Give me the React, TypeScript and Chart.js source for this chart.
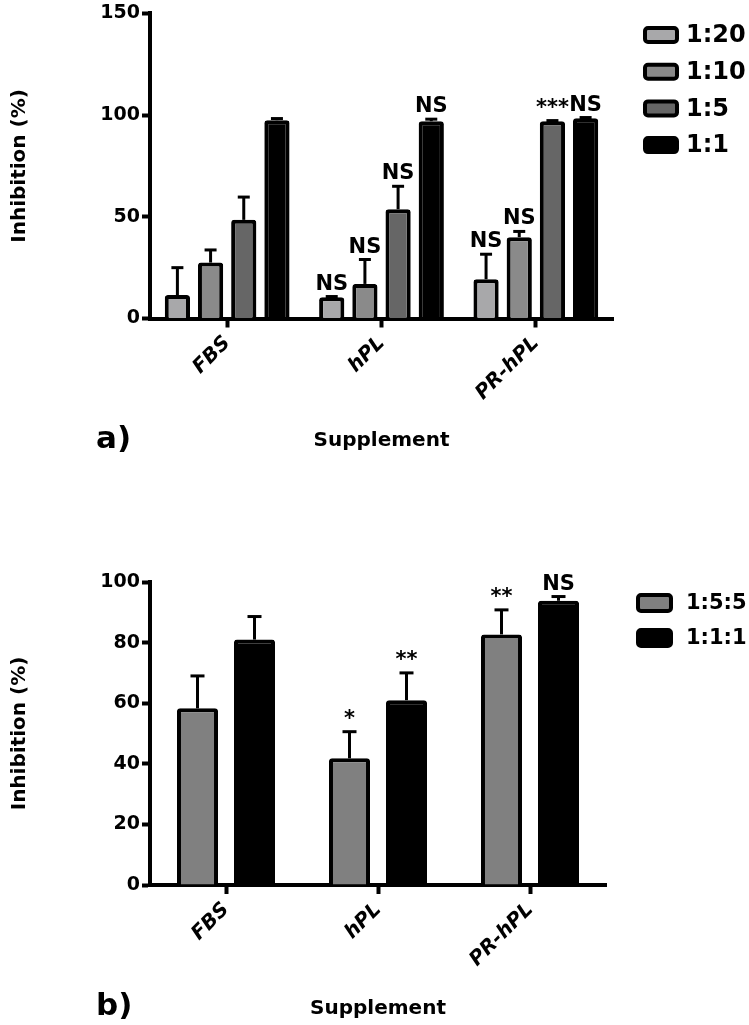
import React, { useEffect, useRef } from "react";
import { Chart, registerables } from "chart.js";

Chart.register(...registerables);

// ---------- DATA ----------
const supplements = ["FBS", "hPL", "PR-hPL"];

// Panel a)
const ratiosA = ["1:20", "1:10", "1:5", "1:1"];
const a_1_20 = [11.5, 10.5, 19.3];
const a_1_10 = [27.5, 17.0, 40.0];
const a_1_5 = [48.5, 53.7, 97.0];
const a_1_1 = [97.5, 97.0, 98.5];
const aErr_1_20 = [13.5, 0.3, 12.3];
const aErr_1_10 = [6.2, 12.0, 2.8];
const aErr_1_5 = [11.2, 11.3, 0.3];
const aErr_1_1 = [0.8, 1.0, 0.3];
const aSig_1_20 = ["", "NS", "NS"];
const aSig_1_10 = ["", "NS", "NS"];
const aSig_1_5 = ["", "NS", "***"];
const aSig_1_1 = ["", "NS", "NS"];
const aColors = ["#a8a8aa", "#8a8a8a", "#666666", "#000000"];
const aTickStep = 50;
const aMax = 150;

// Panel b)
const ratiosB = ["1:5:5", "1:1:1"];
const b_1_5_5 = [58.3, 41.8, 82.7];
const b_1_1_1 = [81.0, 61.0, 93.8];
const bErr_1_5_5 = [10.7, 8.8, 8.1];
const bErr_1_1_1 = [7.6, 9.0, 1.4];
const bSig_1_5_5 = ["", "*", "**"];
const bSig_1_1_1 = ["", "**", "NS"];
const bColors = ["#808080", "#000000"];
const bTickStep = 20;
const bMax = 100;

const xTitle = "Supplement";
const yTitle = "Inhibition (%)";

const FONT = "'DejaVu Sans', sans-serif";

type PanelOpts = {
  width: number;
  height: number;
  padTop: number;
  padRight: number;
  xAxisHeight: number;
  xTitlePadBottom: number;
  max: number;
  step: number;
  catPct: number;
  barPct: number;
  capHalf: number;
  panelLabel: string;
  panelLabelY: number;
  legendBoxX: number;
  legendBoxW: number;
  legendBoxH: number;
  legendTextX: number;
  legendY0: number;
  legendDY: number;
  legendFont: number;
};

const errorAndSigPlugin = {
  id: "errorAndSig",
  afterDatasetsDraw(chart: any) {
    const ctx = chart.ctx;
    const y = chart.scales.y;
    const capHalf = chart.options.plugins.errorAndSig.capHalf;
    chart.data.datasets.forEach((ds: any, di: number) => {
      const meta = chart.getDatasetMeta(di);
      meta.data.forEach((bar: any, i: number) => {
        const v = ds.data[i];
        const e = ds.errors[i];
        const yTop = y.getPixelForValue(v + e);
        const yV = y.getPixelForValue(v);
        ctx.save();
        ctx.strokeStyle = "#000";
        ctx.lineWidth = 3;
        ctx.lineCap = "butt";
        if (e > 0.5) {
          ctx.beginPath();
          ctx.moveTo(bar.x, yV);
          ctx.lineTo(bar.x, yTop);
          ctx.stroke();
        }
        ctx.beginPath();
        ctx.moveTo(bar.x - capHalf, yTop);
        ctx.lineTo(bar.x + capHalf, yTop);
        ctx.stroke();
        const s = ds.sig[i];
        if (s) {
          ctx.fillStyle = "#000";
          ctx.font = `bold 21px ${FONT}`;
          ctx.textAlign = "center";
          ctx.textBaseline = "alphabetic";
          ctx.fillText(s, bar.x, yTop - 7);
        }
        ctx.restore();
      });
    });
  },
};

const legendPlugin = {
  id: "customLegend",
  afterDraw(chart: any) {
    const o = chart.options.plugins.customLegend;
    const ctx = chart.ctx;
    ctx.save();
    chart.data.datasets.forEach((ds: any, i: number) => {
      const cy = o.legendY0 + i * o.legendDY;
      const x = o.legendBoxX;
      const w = o.legendBoxW;
      const h = o.legendBoxH;
      ctx.beginPath();
      ctx.roundRect(x + 2, cy - h / 2 + 2, w - 4, h - 4, 3);
      ctx.fillStyle = ds.backgroundColor;
      ctx.fill();
      ctx.lineWidth = 4;
      ctx.strokeStyle = "#000";
      ctx.stroke();
      ctx.fillStyle = "#000";
      ctx.font = `bold ${o.legendFont}px ${FONT}`;
      ctx.textAlign = "left";
      ctx.textBaseline = "middle";
      ctx.fillText(ds.label, o.legendTextX, cy + 1);
    });
    ctx.fillStyle = "#000";
    ctx.font = `bold 31px ${FONT}`;
    ctx.textAlign = "left";
    ctx.textBaseline = "middle";
    ctx.fillText(o.panelLabel, 96, o.panelLabelY);
    ctx.restore();
  },
};

function makeConfig(datasets: any[], o: PanelOpts): any {
  return {
    type: "bar",
    data: { labels: supplements, datasets },
    plugins: [errorAndSigPlugin, legendPlugin],
    options: {
      animation: false,
      responsive: false,
      devicePixelRatio: 1,
      layout: { padding: { left: 0, top: o.padTop, right: o.padRight, bottom: 0 } },
      datasets: { bar: { categoryPercentage: o.catPct, barPercentage: o.barPct } },
      plugins: {
        legend: { display: false },
        tooltip: { enabled: false },
        errorAndSig: { capHalf: o.capHalf },
        customLegend: o,
      },
      scales: {
        x: {
          type: "category",
          offset: true,
          z: 1,
          grid: {
            display: true,
            drawOnChartArea: false,
            drawTicks: true,
            tickLength: 9,
            tickWidth: 4,
            tickColor: "#000",
            offset: false,
          },
          border: { display: true, color: "#000", width: 4 },
          ticks: {
            color: "#000",
            font: { family: FONT, size: 20, weight: "bold", style: "italic" },
            minRotation: 45,
            maxRotation: 45,
            padding: 4,
          },
          title: {
            display: true,
            text: xTitle,
            color: "#000",
            font: { family: FONT, size: 20, weight: "bold" },
            padding: { top: 0, bottom: o.xTitlePadBottom },
          },
          afterFit: (s: any) => {
            s.height = o.xAxisHeight;
          },
        },
        y: {
          min: 0,
          max: o.max,
          z: 1,
          ticks: {
            stepSize: o.step,
            color: "#000",
            font: { family: FONT, size: 19, weight: "bold" },
            padding: 2,
          },
          grid: {
            display: true,
            drawOnChartArea: false,
            drawTicks: true,
            tickLength: 8,
            tickWidth: 4,
            tickColor: "#000",
          },
          border: { display: true, color: "#000", width: 4 },
          title: {
            display: true,
            text: yTitle,
            color: "#000",
            font: { family: FONT, size: 20, weight: "bold" },
            padding: { top: 8, bottom: 0 },
          },
          afterFit: (s: any) => {
            s.width = 150;
          },
        },
      },
    },
  };
}

function mkDs(label: string, data: number[], errors: number[], sig: string[], color: string) {
  return {
    label,
    data,
    errors,
    sig,
    backgroundColor: color,
    borderColor: "#000",
    borderWidth: 4,
    borderRadius: 3,
    borderSkipped: "start",
  };
}

function Panel({ datasets, opts, top }: { datasets: any[]; opts: PanelOpts; top: number }) {
  const ref = useRef<HTMLCanvasElement | null>(null);
  useEffect(() => {
    if (!ref.current) return;
    const chart = new Chart(ref.current, makeConfig(datasets, opts));
    return () => chart.destroy();
  }, []);
  return (
    <canvas
      ref={ref}
      width={opts.width}
      height={opts.height}
      style={{ position: "absolute", left: 0, top, width: opts.width, height: opts.height, display: "block" }}
    />
  );
}

export default function App() {
  const dsA = [
    mkDs(ratiosA[0], a_1_20, aErr_1_20, aSig_1_20, aColors[0]),
    mkDs(ratiosA[1], a_1_10, aErr_1_10, aSig_1_10, aColors[1]),
    mkDs(ratiosA[2], a_1_5, aErr_1_5, aSig_1_5, aColors[2]),
    mkDs(ratiosA[3], a_1_1, aErr_1_1, aSig_1_1, aColors[3]),
  ];
  const dsB = [
    mkDs(ratiosB[0], b_1_5_5, bErr_1_5_5, bSig_1_5_5, bColors[0]),
    mkDs(ratiosB[1], b_1_1_1, bErr_1_1_1, bSig_1_1_1, bColors[1]),
  ];
  const optsA: PanelOpts = {
    width: 749,
    height: 505,
    padTop: 13,
    padRight: 136,
    xAxisHeight: 186.5,
    xTitlePadBottom: 52,
    max: aMax,
    step: aTickStep,
    catPct: 0.86,
    barPct: 0.76,
    capHalf: 6,
    panelLabel: "a)",
    panelLabelY: 440,
    legendBoxX: 643,
    legendBoxW: 36,
    legendBoxH: 18,
    legendTextX: 686,
    legendY0: 35,
    legendDY: 36.7,
    legendFont: 24,
  };
  const optsB: PanelOpts = {
    width: 749,
    height: 520,
    padTop: 77,
    padRight: 143,
    xAxisHeight: 140,
    xTitlePadBottom: 4,
    max: bMax,
    step: bTickStep,
    catPct: 0.75,
    barPct: 0.72,
    capHalf: 7,
    panelLabel: "b)",
    panelLabelY: 502,
    legendBoxX: 636,
    legendBoxW: 37,
    legendBoxH: 20,
    legendTextX: 686,
    legendY0: 98,
    legendDY: 35,
    legendFont: 21,
  };
  return (
    <div style={{ position: "absolute", left: 0, top: 0, width: 749, height: 1025, background: "#fff" }}>
      <Panel datasets={dsA} opts={optsA} top={0} />
      <Panel datasets={dsB} opts={optsB} top={505} />
    </div>
  );
}
